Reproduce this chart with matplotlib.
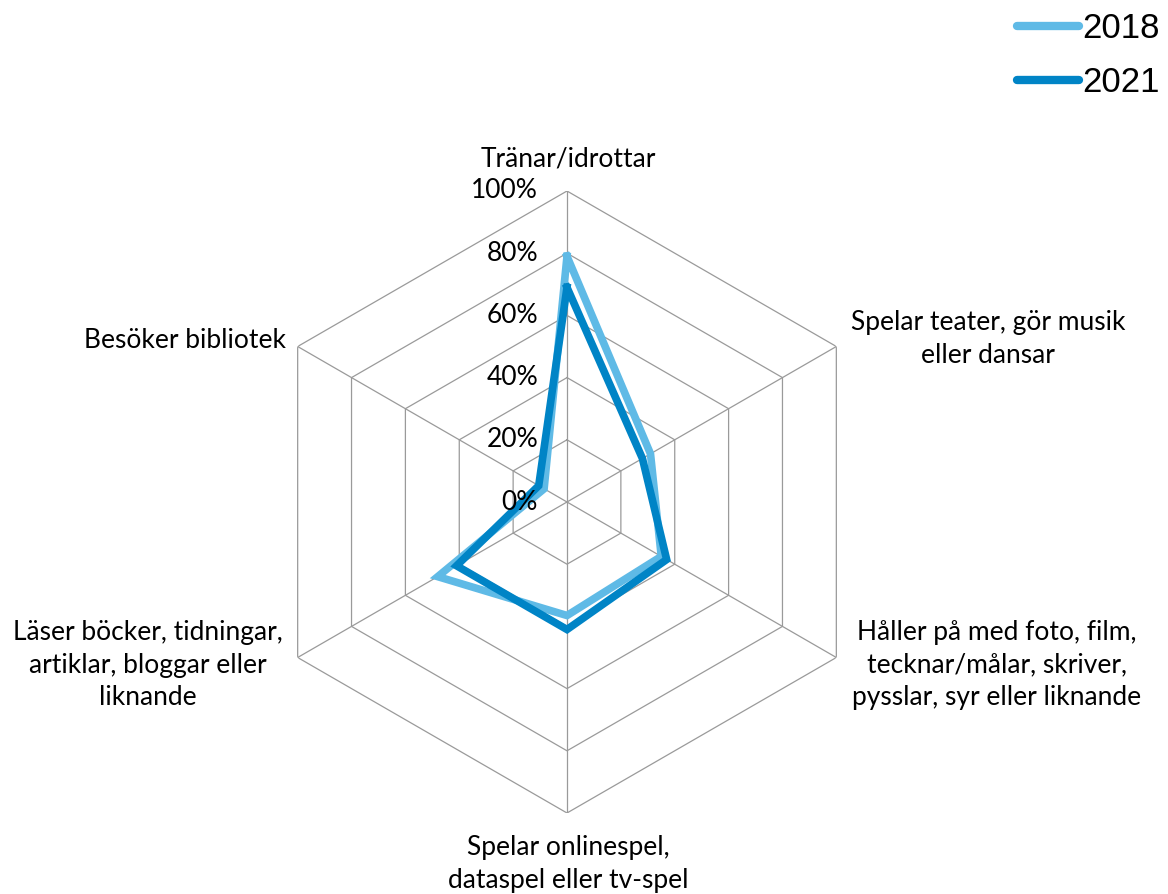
import numpy as np
import matplotlib
matplotlib.use("Agg")
import matplotlib.pyplot as plt
import matplotlib.transforms as mtransforms

# categories clockwise from the top
categories = [
    "Tränar/idrottar",
    "Spelar teater, gör musik\neller dansar",
    "Håller på med foto, film,\ntecknar/målar, skriver,\npysslar, syr eller liknande",
    "Spelar onlinespel,\ndataspel eller tv-spel",
    "Läser böcker, tidningar,\nartiklar, bloggar eller\nliknande",
    "Besöker bibliotek",
]
values_2018 = [0.79, 0.31, 0.35, 0.365, 0.48, 0.085]
values_2021 = [0.69, 0.28, 0.37, 0.41, 0.41, 0.105]
levels = [0.2, 0.4, 0.6, 0.8, 1.0]
level_labels = ["0%", "20%", "40%", "60%", "80%", "100%"]

c2018 = "#5FBAE6"
c2021 = "#0084C6"
grid_c = "#9A9A9A"
label_font = "Lato"

W, H = 1168, 894
fig = plt.figure(figsize=(W / 100, H / 100), dpi=100)

cx, cy, R = 567, 502, 311
ax = fig.add_axes([(cx - R) / W, (H - cy - R) / H, 2 * R / W, 2 * R / H],
                  projection="polar")
ax.set_theta_offset(np.pi / 2)
ax.set_theta_direction(-1)
ax.set_ylim(0, 1)
ax.grid(False)
ax.spines["polar"].set_visible(False)
ax.set_xticks([])
ax.set_yticks([])
ax.patch.set_visible(False)

n = len(categories)
angles = np.arange(n) * 2 * np.pi / n
closed = np.append(angles, angles[0])

# hexagon grid
for lv in levels:
    ax.plot(closed, [lv] * (n + 1), color=grid_c, lw=0.9, zorder=1)
for a in angles:
    ax.plot([a, a], [0, 1], color=grid_c, lw=0.9, zorder=1)

l1, = ax.plot(closed, values_2018 + values_2018[:1], color=c2018, lw=5.5,
              solid_joinstyle="miter", zorder=3, label="2018")
l2, = ax.plot(closed, values_2021 + values_2021[:1], color=c2021, lw=5.5,
              solid_joinstyle="miter", zorder=4, label="2021")

# radial tick labels along the top spoke
off = mtransforms.offset_copy(ax.transData, fig=fig, x=-29, y=0, units="dots")
for lv, txt in zip([0] + levels, level_labels):
    ax.text(0, lv, txt, transform=off, ha="right", va="center",
            fontsize=19, family=label_font, color="#000000", zorder=5)

# category labels
lab_fs = 19
pos = [
    (568, 159, "center"),
    (988, 339, "center"),
    (997, 665, "center"),
    (568, 864, "center"),
    (148, 665, "center"),
    (286, 340, "right"),
]
for txt, (x, y, ha) in zip(categories, pos):
    fig.text(x / W, 1 - y / H, txt, ha=ha, va="center", fontsize=lab_fs,
             family=label_font, linespacing=1.38, multialignment="center")

leg = fig.legend([l1, l2], ["2018", "2021"], loc="upper right",
                 bbox_to_anchor=(1 + 13 / W, 1 + 9 / H), frameon=False,
                 prop={"family": "Liberation Sans", "size": 25},
                 handlelength=1.8, handletextpad=0.1, labelspacing=0.6,
                 borderaxespad=0.2)
for h in leg.get_lines():
    h.set_linewidth(6)
    h.set_solid_capstyle("round")

fig.savefig("out.png", dpi=100)
